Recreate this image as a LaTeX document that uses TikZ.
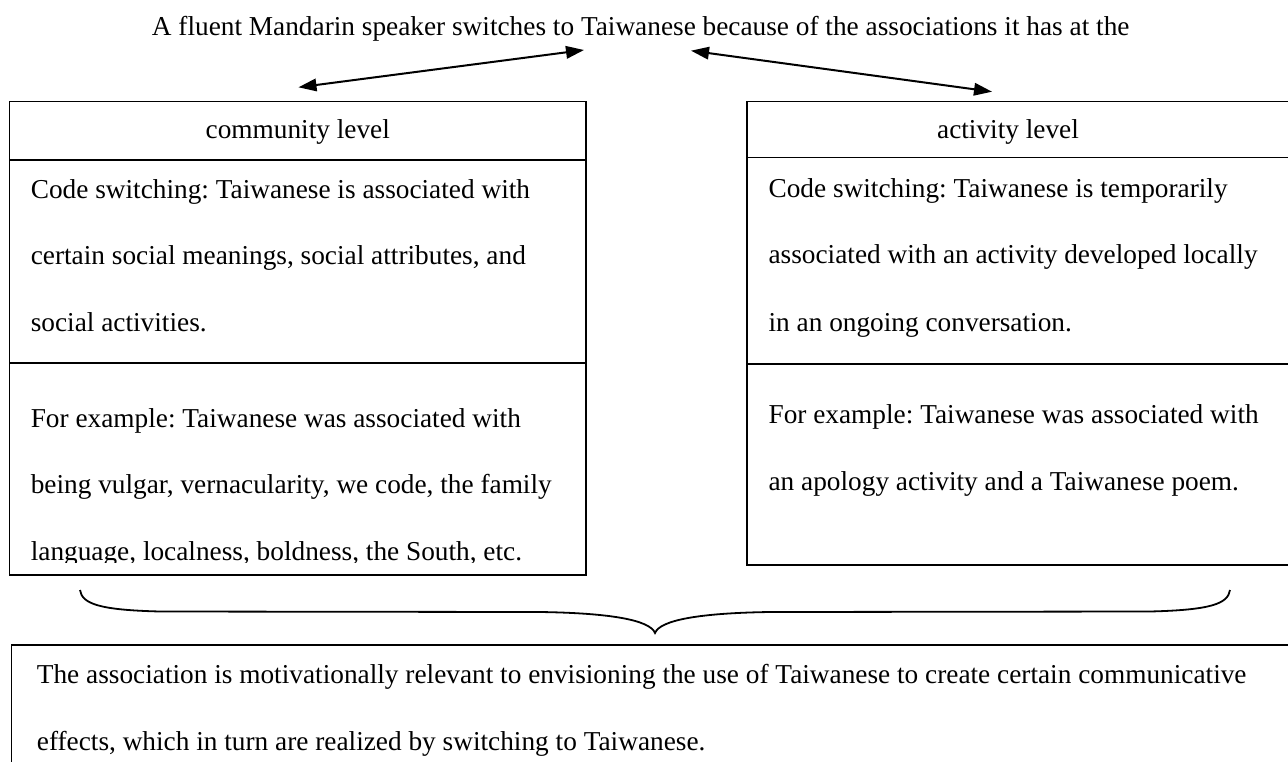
\documentclass[tikz,border=0pt]{standalone}
\usepackage{fontspec}
\setmainfont{Liberation Serif}
\usetikzlibrary{arrows.meta}
\frenchspacing
\begin{document}
\begin{tikzpicture}[x=1pt,y=-1pt,
  txt/.style={anchor=base west, inner sep=0pt, font=\fontsize{27.3}{27.3}\selectfont},
  head/.style={anchor=base, inner sep=0pt, font=\fontsize{27.3}{27.3}\selectfont},
  frame/.style={line width=1.4pt, draw=black},
  link/.style={line width=2pt, {Triangle[length=18pt,width=12.5pt]}-{Triangle[length=18pt,width=12.5pt]}},
  bracepath/.style={line width=1.8pt}]
\useasboundingbox (0,0) rectangle (1288,761);
\clip (0,0) rectangle (1288,761);

% heading sentence
\node[txt] (title) at (151.7,35) {A fluent Mandarin speaker switches to Taiwanese because of the associations it has at the};

% double-headed links from the sentence to the two levels
\coordinate (tleft) at (584,50);
\coordinate (cend) at (298.5,87.3);
\coordinate (tright) at (691,50.7);
\coordinate (aend) at (992,91.7);
\draw[link] (cend) -- (tleft);
\draw[link] (tright) -- (aend);

% community level table
\draw[frame] (9.6,101.5) rectangle (586,575);
\draw[frame] (9.6,160) -- (586,160);
\draw[frame] (9.6,363) -- (586,363);
\node[head] (chead) at (297.8,138.3) {community level};
\node[txt] (c1) at (30.6,198.3) {Code switching: Taiwanese is associated with};
\node[txt] (c2) at (30.6,264.6) {certain social meanings, social attributes, and};
\node[txt] (c3) at (30.6,331) {social activities.};
\node[txt] (c4) at (30.6,427) {For example: Taiwanese was associated with};
\node[txt] (c5) at (30.6,493.3) {being vulgar, vernacularity, we code, the family};
\begin{scope}
  \clip (0,0) rectangle (1288,562);
  \node[txt] (c6) at (30.6,560) {language, localness, boldness, the South, etc.};
\end{scope}

% activity level table
\draw[frame] (747,101.5) rectangle (1300,565);
\draw[frame] (747,157.5) -- (1300,157.5);
\draw[frame] (747,364) -- (1300,364);
\node[head] (ahead) at (1008,138.3) {activity level};
\node[txt] (a1) at (768.4,197) {Code switching: Taiwanese is temporarily};
\node[txt] (a2) at (768.4,263.5) {associated with an activity developed locally};
\node[txt] (a3) at (768.4,331) {in an ongoing conversation.};
\node[txt] (a4) at (768.4,423) {For example: Taiwanese was associated with};
\node[txt] (a5) at (768.4,490) {an apology activity and a Taiwanese poem.};

% brace gathering both levels
\draw[bracepath] (80,590) .. controls (82,604) and (100,610) .. (160,611.5)
  -- (540,612) .. controls (610,613) and (650,620) .. (655,633)
  .. controls (660,620) and (700,613) .. (770,612)
  -- (1150,611.5) .. controls (1210,610) and (1228,604) .. (1230,590);

% conclusion box
\draw[frame] (11.7,645) rectangle (1300,800);
\node[txt] (b1) at (36.7,683) {The association is motivationally relevant to envisioning the use of Taiwanese to create certain communicative};
\node[txt] (b2) at (36.7,750) {effects, which in turn are realized by switching to Taiwanese.};
\end{tikzpicture}
\end{document}
